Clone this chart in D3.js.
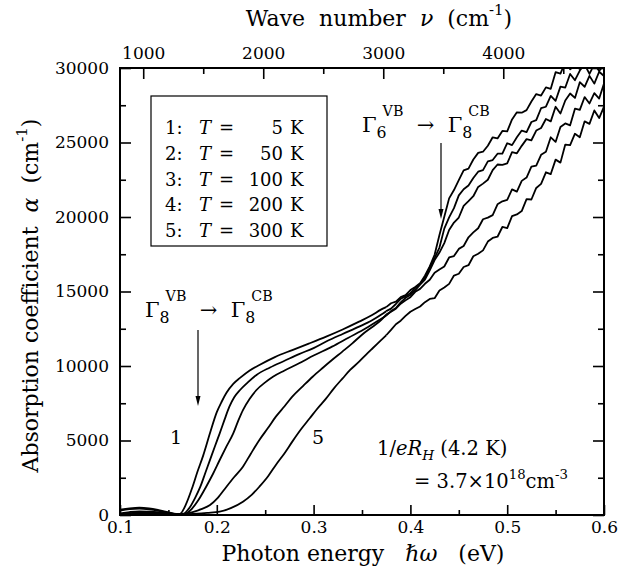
<!DOCTYPE html>
<html>
<head>
<meta charset="utf-8">
<script src="https://cdn.jsdelivr.net/npm/d3@7"></script>
<style>
  html, body { margin: 0; padding: 0; background: #fff; }
  svg text { font-family: "DejaVu Serif", "Liberation Serif", serif; fill: #000; white-space: pre; }
</style>
</head>
<body>
<script>
// ---------- DATA ----------
const energyTicks = [0.1, 0.2, 0.3, 0.4, 0.5, 0.6];
const energyMinor = [0.15, 0.25, 0.35, 0.45, 0.55];
const alphaTicks = [0, 5000, 10000, 15000, 20000, 25000, 30000];
const alphaMinor = [2500, 7500, 12500, 17500, 22500, 27500];
const waveTicks = [1000, 2000, 3000, 4000];
const waveMinor = [1500, 2500, 3500, 4500];
const curveIds = ["1", "2", "3", "4", "5"];
const temperatures = ["5", "50", "100", "200", "300"];

// energies (eV) and absorption (cm^-1) of the smooth low-energy part of each trace
const energy1 = [0.100,0.110,0.120,0.130,0.140,0.150,0.158,0.162,0.168,0.175,0.180,0.186,0.193,0.200,0.205,0.210,0.217,0.224,0.234,0.244,0.260,0.278,0.295,0.313,0.330,0.347,0.360,0.370];
const alpha1  = [350,450,500,450,330,180,70,80,700,1900,2900,4000,5500,6900,7600,8200,8800,9200,9700,10070,10600,11070,11500,11970,12450,12975,13400,13800];

const energy2 = [0.100,0.110,0.120,0.130,0.140,0.150,0.160,0.166,0.172,0.178,0.183,0.188,0.193,0.198,0.203,0.208,0.213,0.218,0.224,0.232,0.241,0.255,0.270,0.285,0.300,0.313,0.330,0.347,0.360,0.370];
const alpha2  = [300,400,430,380,280,150,40,100,500,1200,1900,2800,3700,4600,5480,6400,7270,7900,8390,8900,9400,9900,10350,10800,11200,11640,12150,12640,13050,13450];

const energy3 = [0.100,0.110,0.120,0.130,0.140,0.150,0.160,0.167,0.174,0.181,0.189,0.196,0.203,0.210,0.217,0.222,0.227,0.234,0.241,0.250,0.258,0.270,0.285,0.300,0.319,0.336,0.354,0.367];
const alpha3  = [100,200,250,220,170,100,40,80,400,1000,1900,2750,3690,4600,5480,6300,7040,7800,8390,8900,9280,9700,10180,10700,11300,11900,12530,13050];

const energy4 = [0.100,0.110,0.120,0.130,0.140,0.150,0.160,0.167,0.175,0.184,0.193,0.201,0.210,0.218,0.227,0.235,0.244,0.253,0.261,0.270,0.278,0.289,0.299,0.309,0.319,0.330,0.340,0.350,0.361,0.370];
const alpha4  = [50,120,180,190,150,90,40,60,200,400,670,1150,1900,2550,3245,4100,5035,5850,6600,7300,7940,8650,9280,9850,10400,10980,11520,12100,12640,13100];

const energy5 = [0.100,0.110,0.120,0.130,0.140,0.150,0.160,0.170,0.180,0.190,0.203,0.215,0.227,0.236,0.244,0.253,0.261,0.270,0.278,0.287,0.296,0.304,0.313,0.321,0.330,0.338,0.347,0.354,0.361,0.370];
const alpha5  = [20,60,100,120,110,80,50,60,90,140,220,480,895,1350,1900,2600,3360,4150,4925,5750,6490,7150,7830,8500,9170,9750,10290,10750,11190,11750];

// noisy high-energy part (shared energy grid)
const energyNoisy = [0.375,0.380,0.385,0.390,0.395,0.400,0.405,0.410,0.415,0.420,0.425,0.430,0.435,0.440,0.445,0.450,0.455,0.460,0.465,0.470,0.475,0.480,0.485,0.490,0.495,0.500,0.505,0.510,0.515,0.520,0.525,0.530,0.535,0.540,0.545,0.550,0.555,0.560,0.565,0.570,0.575,0.580,0.585,0.590,0.595,0.600];
const alpha1Noisy = [13950,14210,14320,14620,14760,15100,15310,15560,16060,16680,17465,18790,20015,21250,21810,22470,23135,23250,23860,24305,24380,24785,25350,25275,25775,25750,26550,27025,27000,27175,27750,28250,28150,28700,28600,29720,29620,30400,29920,30140,29940,30800,30080,30740,30200,30900];
const alpha2Noisy = [13680,13852,14162,14510,14676,14890,15242,15506,15914,16604,17245,17950,19220,19970,20595,21450,21860,22115,22615,23040,23150,23735,23825,24250,24250,24950,24825,25350,25800,25700,26375,26500,27300,27400,28130,27800,28750,28690,29600,29180,29830,30240,29600,30260,29800,30220];
const alpha3Noisy = [13382,13686,13890,14274,14574,14770,15094,15460,15802,16418,17105,17610,18250,19125,19630,19965,20750,21065,21395,22020,22240,22500,23150,23525,23500,23600,24350,24275,24775,25225,25150,25800,25975,26575,26420,27400,26950,27820,28290,27990,29050,28740,29470,28950,29750,29460];
const alpha4Noisy = [13448,13638,13846,14180,14406,14614,14980,15176,15518,15790,16255,16480,16680,17285,17375,17860,18050,18640,18965,19245,19850,19955,20125,20850,21050,21150,21850,21700,22425,22650,23375,23450,24175,24375,25350,25040,26040,26280,26150,27270,27190,28050,27620,28310,27950,28960];
const alpha5Noisy = [12064,12424,12804,13040,13362,13642,13820,13996,14286,14498,14550,15070,15265,15510,16070,16190,16645,16765,17365,17530,17760,18350,18595,18675,19330,19250,20055,20175,20400,21200,21175,21950,22225,23000,22880,23850,23650,24860,24820,25590,25350,26420,26250,27150,26640,27410];

const EV_TO_WAVENUMBER = 8065.54;

// ---------- LAYOUT ----------
const W = 620, H = 577;
const pLeft = 120, pRight = 604, pTop = 68, pBottom = 515;

const x = d3.scaleLinear().domain([0.1, 0.6]).range([pLeft, pRight]);
const xTop = d3.scaleLinear().domain([0.1 * EV_TO_WAVENUMBER, 0.6 * EV_TO_WAVENUMBER]).range([pLeft, pRight]);
const y = d3.scaleLinear().domain([0, 30000]).range([pBottom, pTop]);

const svg = d3.select("body").append("svg").attr("width", W).attr("height", H);

svg.append("defs").append("clipPath").attr("id", "plotclip")
  .append("rect").attr("x", pLeft).attr("y", pTop).attr("width", pRight - pLeft).attr("height", pBottom - pTop);

// ---------- AXES ----------
const tickFont = 17;
function styleAxis(g) {
  g.select(".domain").remove();
  g.selectAll(".tick line").attr("stroke", "#000").attr("stroke-width", 1.6);
  g.selectAll(".tick text").attr("font-size", tickFont).attr("font-family", "DejaVu Serif");
}

svg.append("g").attr("transform", `translate(0,${pBottom})`)
  .call(d3.axisBottom(x).tickValues(energyTicks).tickSize(-10).tickPadding(6).tickFormat(d3.format(".1f")))
  .call(styleAxis);
svg.append("g").attr("transform", `translate(0,${pBottom})`)
  .call(d3.axisBottom(x).tickValues(energyMinor).tickSize(-5).tickFormat(""))
  .call(styleAxis);
svg.append("g").attr("transform", `translate(${pLeft},0)`)
  .call(d3.axisLeft(y).tickValues(alphaTicks).tickSize(-11).tickPadding(11).tickFormat(d3.format("d")))
  .call(styleAxis);
svg.append("g").attr("transform", `translate(${pLeft},0)`)
  .call(d3.axisLeft(y).tickValues(alphaMinor).tickSize(-6).tickFormat(""))
  .call(styleAxis);
svg.append("g").attr("transform", `translate(${pRight},0)`)
  .call(d3.axisRight(y).tickValues(alphaTicks).tickSize(-11).tickFormat(""))
  .call(styleAxis);
svg.append("g").attr("transform", `translate(${pRight},0)`)
  .call(d3.axisRight(y).tickValues(alphaMinor).tickSize(-6).tickFormat(""))
  .call(styleAxis);
svg.append("g").attr("transform", `translate(0,${pTop})`)
  .call(d3.axisTop(xTop).tickValues(waveTicks).tickSize(-11).tickPadding(9).tickFormat(d3.format("d")))
  .call(styleAxis);
svg.append("g").attr("transform", `translate(0,${pTop})`)
  .call(d3.axisTop(xTop).tickValues(waveMinor).tickSize(-6).tickFormat(""))
  .call(styleAxis);

svg.append("rect").attr("x", pLeft).attr("y", pTop).attr("width", pRight - pLeft).attr("height", pBottom - pTop)
  .attr("fill", "none").attr("stroke", "#000").attr("stroke-width", 2);

// ---------- RICH TEXT HELPER ----------
function rich(parent, px, py, segs, size, anchor) {
  const t = parent.append("text").attr("x", px).attr("y", py)
    .attr("font-size", size).attr("text-anchor", anchor || "start");
  let shift = 0;
  segs.forEach(s => {
    const sp = t.append("tspan").text(s.t);
    let target = 0;
    if (s.sup) target = -size * (s.lift || 0.45);
    else if (s.sub) target = size * (s.drop || 0.28);
    if (target - shift !== 0) sp.attr("dy", target - shift);
    shift = target;
    if (s.sup || s.sub) sp.attr("font-size", size * (s.scale || 0.68));
    if (s.i) sp.attr("font-style", "italic");
    if (s.dx) sp.attr("dx", s.dx);
  });
  return t;
}

// ---------- AXIS TITLES ----------
rich(svg, 363, 561, [
  { t: "Photon energy   " }, { t: "ℏω", i: true }, { t: "   (eV)" }
], 22, "middle");

rich(svg, 379, 26, [
  { t: "Wave  number  " }, { t: "ν", i: true }, { t: "  (cm" }, { t: "-1", sup: true, lift: 0.5 }, { t: ")" }
], 22, "middle");

const yt = svg.append("g").attr("transform", `translate(38,${(pTop + pBottom) / 2 + 4}) rotate(-90)`);
rich(yt, 0, 0, [
  { t: "Absorption coefficient  " }, { t: "α", i: true }, { t: "  (cm" }, { t: "-1", sup: true, lift: 0.5 }, { t: ")" }
], 22, "middle");

// ---------- CURVES ----------
const traces = [
  { id: curveIds[0], e: energy1, a: alpha1, an: alpha1Noisy },
  { id: curveIds[1], e: energy2, a: alpha2, an: alpha2Noisy },
  { id: curveIds[2], e: energy3, a: alpha3, an: alpha3Noisy },
  { id: curveIds[3], e: energy4, a: alpha4, an: alpha4Noisy },
  { id: curveIds[4], e: energy5, a: alpha5, an: alpha5Noisy }
];

const smoothLine = d3.line().x(d => x(d[0])).y(d => y(d[1])).curve(d3.curveMonotoneX);
const noisyLine = d3.line().x(d => x(d[0])).y(d => y(d[1])).curve(d3.curveLinear);

const cg = svg.append("g").attr("clip-path", "url(#plotclip)");
cg.selectAll("path.smooth").data(traces).join("path").attr("class", "smooth")
  .attr("d", t => smoothLine(t.e.map((v, i) => [v, t.a[i]]).concat([[energyNoisy[0], t.an[0]]])))
  .attr("fill", "none").attr("stroke", "#000").attr("stroke-width", 1.8).attr("stroke-linejoin", "round");
cg.selectAll("path.noisy").data(traces).join("path").attr("class", "noisy")
  .attr("d", t => noisyLine(energyNoisy.map((v, i) => [v, t.an[i]])))
  .attr("fill", "none").attr("stroke", "#000").attr("stroke-width", 1.8).attr("stroke-linejoin", "round");

// ---------- LEGEND ----------
const lg = svg.append("g");
lg.append("rect").attr("x", 151).attr("y", 96).attr("width", 176).attr("height", 150)
  .attr("fill", "#fff").attr("stroke", "#000").attr("stroke-width", 1.2);
temperatures.forEach((T, i) => {
  const by = 134 + i * 25.8;
  lg.append("text").attr("x", 165).attr("y", by).attr("font-size", 18).text(curveIds[i] + ":");
  lg.append("text").attr("x", 199).attr("y", by).attr("font-size", 18).attr("font-style", "italic").text("T");
  lg.append("text").attr("x", 219).attr("y", by).attr("font-size", 18).text("=");
  lg.append("text").attr("x", 283).attr("y", by).attr("font-size", 18).attr("text-anchor", "end").text(T);
  lg.append("text").attr("x", 290).attr("y", by).attr("font-size", 18).text("K");
});

// ---------- ANNOTATIONS ----------
function arrowDown(px, y0, y1) {
  svg.append("line").attr("x1", px).attr("x2", px).attr("y1", y0).attr("y2", y1 - 8)
    .attr("stroke", "#000").attr("stroke-width", 1.2);
  svg.append("path").attr("d", `M${px - 2.5},${y1 - 10} L${px + 2.5},${y1 - 10} L${px},${y1} Z`).attr("fill", "#000");
}

rich(svg, 145, 317, [
  { t: "Γ" }, { t: "8", sub: true, scale: 0.75 }, { t: "VB", sup: true, lift: 0.75, dx: -4 },
  { t: "  →  " }, { t: "Γ" }, { t: "8", sub: true, scale: 0.75 }, { t: "CB", sup: true, lift: 0.75, dx: -4 }
], 21);
arrowDown(198, 330, 406);

rich(svg, 362, 132, [
  { t: "Γ" }, { t: "6", sub: true, scale: 0.75 }, { t: "VB", sup: true, lift: 0.75, dx: -4 },
  { t: "  →  " }, { t: "Γ" }, { t: "8", sub: true, scale: 0.75 }, { t: "CB", sup: true, lift: 0.75, dx: -4 }
], 21);
arrowDown(441, 143, 219);

svg.append("text").attr("x", 176).attr("y", 444).attr("font-size", 19).attr("text-anchor", "middle").text(curveIds[0]);
svg.append("text").attr("x", 318).attr("y", 444).attr("font-size", 19).attr("text-anchor", "middle").text(curveIds[4]);

rich(svg, 377, 455, [
  { t: "1/" }, { t: "eR", i: true }, { t: "H", sub: true, i: true, scale: 0.7 }, { t: " (4.2 K)" }
], 19.5);
rich(svg, 414, 488, [
  { t: "= 3.7×10" }, { t: "18", sup: true, scale: 0.68 }, { t: "cm" }, { t: "-3", sup: true, scale: 0.68 }
], 19.5);
</script>
</body>
</html>
